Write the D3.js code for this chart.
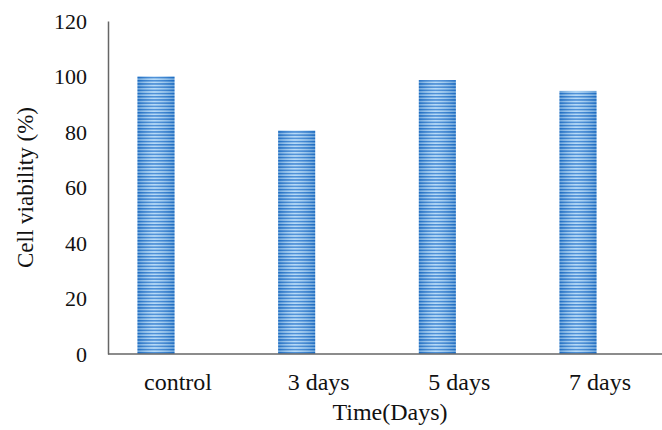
<!DOCTYPE html>
<html>
<head>
<meta charset="utf-8">
<script src="https://cdn.jsdelivr.net/npm/d3@7"></script>
<style>
  body { margin: 0; background: #fff; }
  text { font-family: "Liberation Serif", "Times New Roman", serif; fill: #111; }
</style>
</head>
<body>
<div id="chart"></div>
<script>
// cell viability over time, striped excel-style bars

const categories = ["control", "3 days", "5 days", "7 days"];
const viability = [100, 80.5, 98.7, 94.8];
const yTicks = [0, 20, 40, 60, 80, 100, 120];

var width = 662;
var height = 430;
var margin = {top: 21, right: 0, bottom: 76, left: 108};

const svg = d3.select("#chart")
    .append("svg")
    .attr("width", width)
    .attr("height", height)
    .style("background", "#fff");

// stripe pattern for the bars
const defs = svg.append("defs");
const pat = defs.append("pattern")
    .attr("id", "stripes")
    .attr("patternUnits", "userSpaceOnUse")
    .attr("width", 6)
    .attr("height", 3.2);
pat.append("rect").attr("width", 6).attr("height", 3.2).attr("fill", "#a6d2f6");
pat.append("rect").attr("width", 6).attr("height", 1.5).attr("fill", "#1f72cc");

const grad = defs.append("linearGradient")
    .attr("id", "shine")
    .attr("x1", "0%").attr("x2", "100%");
grad.append("stop").attr("offset", "0%").attr("stop-color", "#0b55a8").attr("stop-opacity", 0.35);
grad.append("stop").attr("offset", "45%").attr("stop-color", "#ffffff").attr("stop-opacity", 0.2);
grad.append("stop").attr("offset", "100%").attr("stop-color", "#0b55a8").attr("stop-opacity", 0.35);

const yScale = d3.scaleLinear()
    .domain([0, 120])
    .range([height - margin.bottom, margin.top]);

// bar centres sit left of the category label centres
const xScale = d3.scalePoint()
    .domain(categories)
    .range([156, 578]);
const barW = 37;
const labelShift = 22;

const bars = svg.append("g");
bars.selectAll("rect.bar")
    .data(viability)
    .enter()
    .append("rect")
        .attr("class", "bar")
        .attr("x", (d, i) => xScale(categories[i]) - barW / 2)
        .attr("width", barW)
        .attr("y", d => yScale(d))
        .attr("height", d => yScale(0) - yScale(d))
        .attr("fill", "url(#stripes)");
bars.selectAll("rect.shine")
    .data(viability)
    .enter()
    .append("rect")
        .attr("class", "shine")
        .attr("x", (d, i) => xScale(categories[i]) - barW / 2)
        .attr("width", barW)
        .attr("y", d => yScale(d))
        .attr("height", d => yScale(0) - yScale(d))
        .attr("fill", "url(#shine)");

// y axis
const yAxis = svg.append("g")
    .attr("transform", `translate(${margin.left}, 0)`)
    .call(d3.axisLeft(yScale).tickValues(yTicks).tickSize(0).tickPadding(21));
yAxis.attr("font-family", null);
yAxis.select(".domain").attr("stroke", "#666").attr("stroke-width", 1.5);
yAxis.selectAll("text")
    .style("font-family", "'Liberation Serif', serif")
    .style("font-size", "22px")
    .attr("dy", "0.34em")
    .attr("fill", "#111");

// x axis line
svg.append("line")
    .attr("x1", margin.left)
    .attr("x2", width)
    .attr("y1", yScale(0))
    .attr("y2", yScale(0))
    .attr("stroke", "#666")
    .attr("stroke-width", 1.5);

svg.append("g").selectAll("text")
    .data(categories)
    .enter()
    .append("text")
        .attr("x", d => xScale(d) + labelShift)
        .attr("y", 390)
        .attr("text-anchor", "middle")
        .style("font-size", "24px")
        .text(d => d);

svg.append("text")
    .attr("x", 390)
    .attr("y", 420)
    .attr("text-anchor", "middle")
    .style("font-size", "24px")
    .text("Time(Days)");

svg.append("text")
    .attr("transform", `translate(33, ${(yScale(0) + yScale(120)) / 2}) rotate(-90)`)
    .attr("text-anchor", "middle")
    .style("font-size", "23px")
    .text("Cell viability (%)");
</script>
</body>
</html>
